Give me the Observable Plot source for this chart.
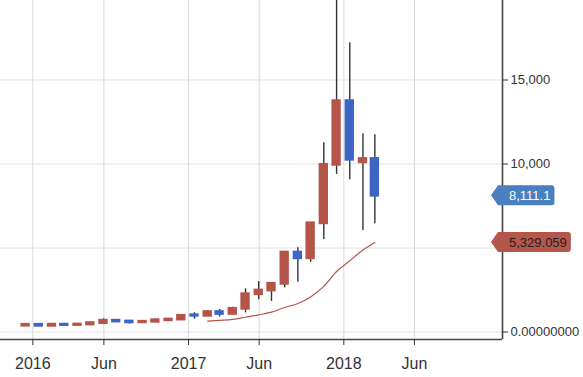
<!DOCTYPE html>
<html><head><meta charset="utf-8">
<script src="https://cdn.jsdelivr.net/npm/d3@7"></script>
<script src="https://cdn.jsdelivr.net/npm/@observablehq/plot@0.6"></script>
<style>
html,body{margin:0;padding:0;background:#fff;}
#chart svg{display:block;}
</style></head><body><div id="chart"></div>
<script>
// Monthly candles (mid-month dates)
const months = ["2015-12-15","2016-01-15","2016-02-15","2016-03-15","2016-04-15","2016-05-15","2016-06-15","2016-07-15","2016-08-15","2016-09-15","2016-10-15","2016-11-15","2016-12-15","2017-01-15","2017-02-15","2017-03-15","2017-04-15","2017-05-15","2017-06-15","2017-07-15","2017-08-15","2017-09-15","2017-10-15","2017-11-15","2017-12-15","2018-01-15","2018-02-15","2018-03-15"];
const open  = [377, 430, 369, 437, 416, 448, 531, 673, 624, 575, 609, 700, 742, 995, 965, 1190, 1075, 1380, 2250, 2470, 2870, 4730, 4390, 6470, 9950, 13740, 10100, 10300];
const high  = [465, 462, 448, 440, 500, 548, 780, 704, 628, 628, 780, 755, 1000, 1150, 1250, 1340, 1480, 2570, 3000, 2930, 4760, 5010, 6480, 11260, 19900, 17210, 11800, 11740];
const low   = [350, 354, 365, 394, 413, 442, 521, 607, 470, 570, 600, 680, 741, 760, 930, 900, 1060, 1140, 1920, 1820, 2630, 2960, 4150, 5500, 9380, 9060, 6040, 6440];
const close = [430, 369, 437, 416, 448, 531, 673, 624, 575, 609, 700, 742, 963, 965, 1190, 1075, 1380, 2250, 2470, 2870, 4730, 4390, 6470, 9950, 13740, 10250, 10300, 8111.1];

// Moving-average line, Feb 2017 .. Mar 2018
const maMonths = ["2017-02-15","2017-03-15","2017-04-15","2017-05-15","2017-06-15","2017-07-15","2017-08-15","2017-09-15","2017-10-15","2017-11-15","2017-12-15","2018-01-15","2018-02-15","2018-03-15"];
const maValues = [645, 690, 755, 880, 1015, 1180, 1460, 1700, 2090, 2715, 3600, 4240, 4880, 5329.059];

const xTicks = ["2016-01-01","2016-06-16","2017-01-01","2017-06-16","2018-01-01","2018-06-16"];
const xTickLabels = ["2016","Jun","2017","Jun","2018","Jun"];
const yTicks = [0, 5000, 10000, 15000];
const yTickLabels = ["0.00000000","","10,000","15,000"]; // 5,000 is hidden under the MA price tag

const lastPrice = 8111.1;
const maLast = 5329.059;

const xDomain = [new Date("2015-10-17"), new Date("2019-01-09")];
const yDomain = [-446, 19732];

const RED = "#b5554a", BLUE = "#3d66c4", TAG_BLUE = "#4a7fc0", TAG_RED = "#b5564a";
const FONT = "'Liberation Sans', Arial, sans-serif";

const data = months.map((m, i) => ({date: new Date(m), open: open[i], high: high[i], low: low[i], close: close[i]}));
const up = data.filter(d => d.close >= d.open);
const down = data.filter(d => d.close < d.open);
const ma = maMonths.map((m, i) => ({date: new Date(m), value: maValues[i]}));
const xTickDates = xTicks.map(d => new Date(d));
const xLab = new Map(xTickDates.map((d, i) => [+d, xTickLabels[i]]));
const yLab = new Map(yTicks.map((d, i) => [d, yTickLabels[i]]));

const bodyOpts = (fill) => ({
  x1: d => d3.utcDay.offset(d.date, -11),
  x2: d => d3.utcDay.offset(d.date, 11),
  y1: "open", y2: "close", fill, insetTop: -1.4, insetBottom: -1.4
});

const chart = Plot.plot({
  width: 583, height: 377,
  marginLeft: 0, marginRight: 81, marginTop: 0, marginBottom: 38,
  x: {type: "utc", domain: xDomain},
  y: {domain: yDomain},
  style: {fontFamily: FONT, fontSize: "13px", color: "#333", background: "#fff"},
  marks: [
    Plot.ruleY(yTicks, {stroke: "#e4e4e4"}),
    Plot.ruleX(xTickDates, {stroke: "#d8d8d8"}),
    Plot.ruleX(data, {x: "date", y1: "low", y2: "high", stroke: "#333", strokeWidth: 1.4, clip: true}),
    Plot.rect(up, bodyOpts(RED)),
    Plot.rect(down, bodyOpts(BLUE)),
    Plot.line(ma, {x: "date", y: "value", stroke: TAG_RED, strokeWidth: 1.2, curve: "monotone-x"}),
    Plot.ruleY([yDomain[0]], {stroke: "#444", strokeWidth: 1.6}),
    Plot.ruleX([xDomain[1]], {stroke: "#444", strokeWidth: 1.6}),
    Plot.axisX({ticks: xTickDates, tickFormat: d => xLab.get(+d), tickSize: 6, tickPadding: 12, fontSize: 16, label: null}),
    Plot.axisY({anchor: "right", ticks: yTicks, tickFormat: d => yLab.get(d), tickSize: 5, tickPadding: 3, fontSize: 13, label: null})
  ]
});
document.getElementById("chart").appendChild(chart);

// price tags on the right axis
const ys = chart.scale("y"), xs = chart.scale("x");
const axisPos = xs.apply(xDomain[1]);
const svg = d3.select(chart);
function tag(value, text, fill, color) {
  const cy = ys.apply(value);
  const tip = axisPos - 11;
  const g = svg.append("g");
  const path = g.append("path").attr("fill", fill);
  const t = g.append("text").attr("x", tip + 18).attr("y", cy).attr("dy", "0.35em")
    .attr("text-anchor", "start").attr("fill", color).attr("font-size", 13)
    .attr("font-family", FONT).text(text);
  const right = tip + 18 + t.node().getComputedTextLength() + 4;
  path.attr("d", `M${tip},${cy} L${tip + 7},${cy - 10} H${right - 3} Q${right},${cy - 10} ${right},${cy - 7} V${cy + 7} Q${right},${cy + 10} ${right - 3},${cy + 10} H${tip + 7} Z`);
}
tag(lastPrice, d3.format(",.1f")(lastPrice), TAG_BLUE, "#fff");
tag(maLast, d3.format(",.3f")(maLast), TAG_RED, "#222");
</script>
</body></html>
